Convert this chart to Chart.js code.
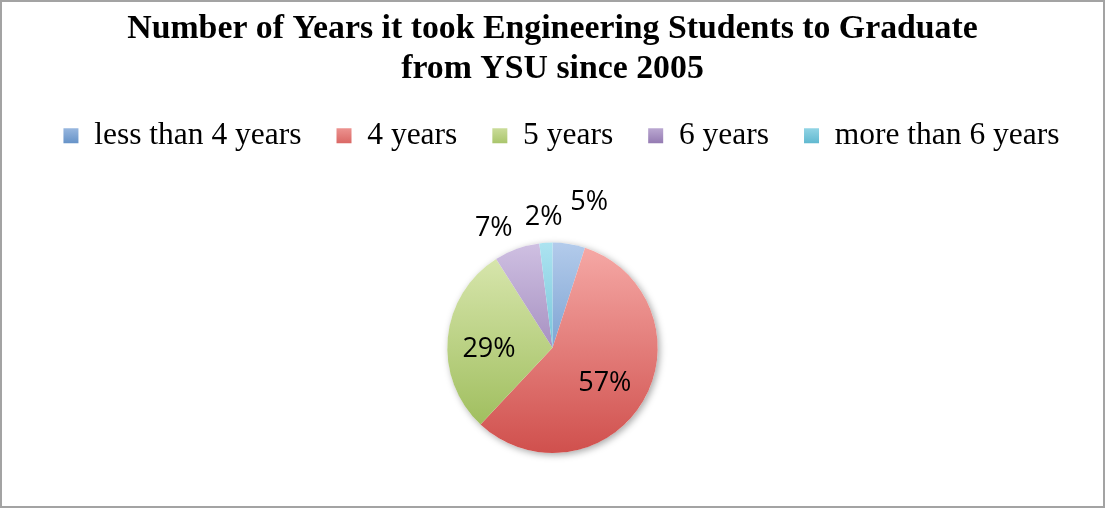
<!DOCTYPE html>
<html>
<head>
<meta charset="utf-8">
<script src="https://cdn.jsdelivr.net/npm/chart.js@4.4.0/dist/chart.umd.min.js"></script>
<style>
    html, body { margin: 0; padding: 0; background: #fff; }
    #wrap { position: absolute; left: 0; top: 0; width: 1101px; height: 504px; border: 2px solid #a3a3a3; }
</style>
</head>
<body>
<div id="wrap"><canvas id="gradChart"></canvas></div>
<script>
const categories = ['less than 4 years', '4 years', '5 years', '6 years', 'more than 6 years']
const shares = [5, 57, 29, 7, 2]
const titleLines = ['Number of Years it took Engineering Students to Graduate', 'from YSU since 2005']

// each slice fades from a light tint at the top to the full colour at the bottom
const lightColors = ['#b3cbeb', '#f6aaa7', '#dce9b3', '#cfc0e2', '#ace3f0']
const darkColors = ['#4a7ebb', '#d0504d', '#97b852', '#7f62a1', '#45a9c4']

// label placement: gap beyond the rim (outside labels) and a sideways slide along the rim
const labelGap = [34, 0, 0, 16, 16]
const labelSlide = [12, 4, -7, -12, 0]

const LEGEND_GAP = 81
const LEGEND_SHIFT = 9

const sliceGradient = (ctx, top, bottom, i) => {
    const g = ctx.createLinearGradient(0, top, 0, bottom)
    g.addColorStop(0, lightColors[i])
    g.addColorStop(1, darkColors[i])
    return g
}

const legendSpacing = {
    id: 'legendSpacing',
    beforeInit(chart) {
        const legend = chart.legend
        const fit = legend.fit
        legend.fit = function () {
            fit.call(this)
            this.height += LEGEND_GAP
        }
    },
    afterLayout(chart) {
        chart.legend.left += LEGEND_SHIFT
        chart.legend.right += LEGEND_SHIFT
    },
    beforeDraw(chart) {
        // give the legend squares the same top-to-bottom fade
        const legend = chart.legend
        legend.legendItems.forEach((item, i) => {
            const hb = legend.legendHitBoxes[i]
            if (hb) item.fillStyle = sliceGradient(chart.ctx, hb.top, hb.top + hb.height, item.index)
        })
    }
}

const pieShadow = {
    id: 'pieShadow',
    beforeDatasetsDraw(chart) {
        const arc = chart.getDatasetMeta(0).data[0]
        if (!arc) return
        const {x, y, outerRadius} = arc.getProps(['x', 'y', 'outerRadius'], true)
        const ctx = chart.ctx
        ctx.save()
        ctx.shadowColor = 'rgba(0, 0, 0, 0.35)'
        ctx.shadowBlur = 7
        ctx.shadowOffsetX = 2
        ctx.shadowOffsetY = 2
        ctx.fillStyle = '#fff'
        ctx.beginPath()
        ctx.arc(x, y, outerRadius, 0, Math.PI * 2)
        ctx.fill()
        ctx.restore()
    }
}

const sliceLabels = {
    id: 'sliceLabels',
    afterDatasetsDraw(chart) {
        const ctx = chart.ctx
        const total = shares.reduce((a, b) => a + b, 0)
        ctx.save()
        ctx.font = '27px "Open Sans"'
        ctx.fillStyle = '#000'
        ctx.textAlign = 'center'
        ctx.textBaseline = 'middle'
        chart.getDatasetMeta(0).data.forEach((arc, i) => {
            const {x, y, startAngle, endAngle, outerRadius} = arc.getProps(['x', 'y', 'startAngle', 'endAngle', 'outerRadius'], true)
            const mid = (startAngle + endAngle) / 2
            const cos = Math.cos(mid), sin = Math.sin(mid)
            const pct = Math.round(shares[i] / total * 100)
            const text = pct + '%'
            let px, py
            if (pct >= 10) {
                // big slices: inside, a bit past half the radius
                px = x + cos * outerRadius * 0.6
                py = y + sin * outerRadius * 0.6
            } else {
                // small slices: text box sits outward from a point just past the rim
                const w = ctx.measureText(text).width
                const r = outerRadius + labelGap[i]
                px = x + cos * r + cos * w / 2
                py = y + sin * r + sin * 10
            }
            px += -sin * labelSlide[i]
            py += cos * labelSlide[i]
            ctx.fillText(text, px, py)
        })
        ctx.restore()
    }
}

window.addEventListener('load', () => {
    const el = document.getElementById('gradChart')
    new Chart(el, {
        type: 'pie',
        data: {
            labels: categories,
            datasets: [
                {
                    data: shares,
                    backgroundColor: (c) => {
                        const area = c.chart.chartArea
                        if (!area) return darkColors[c.dataIndex]
                        const r = Math.min(area.width, area.height) / 2
                        const cy = (area.top + area.bottom) / 2
                        return sliceGradient(c.chart.ctx, cy - r, cy + r, c.dataIndex)
                    },
                    borderWidth: 0,
                    hoverOffset: 0
                }
            ]
        },
        options: {
            responsive: true,
            maintainAspectRatio: false,
            animation: false,
            events: [],
            layout: {
                padding: { top: 0, bottom: 53, left: 0, right: 0 }
            },
            plugins: {
                title: {
                    display: true,
                    text: titleLines,
                    color: '#000',
                    font: { family: '"Liberation Serif"', size: 33.8, weight: 'bold', lineHeight: 1.17 },
                    padding: { top: 8, bottom: -4 }
                },
                legend: {
                    position: 'top',
                    labels: {
                        color: '#000',
                        font: { family: '"Liberation Serif"', size: 31.5 },
                        boxWidth: 15,
                        boxHeight: 15,
                        padding: 35
                    }
                },
                tooltip: { enabled: false }
            }
        },
        plugins: [legendSpacing, pieShadow, sliceLabels]
    })
})
</script>
</body>
</html>
